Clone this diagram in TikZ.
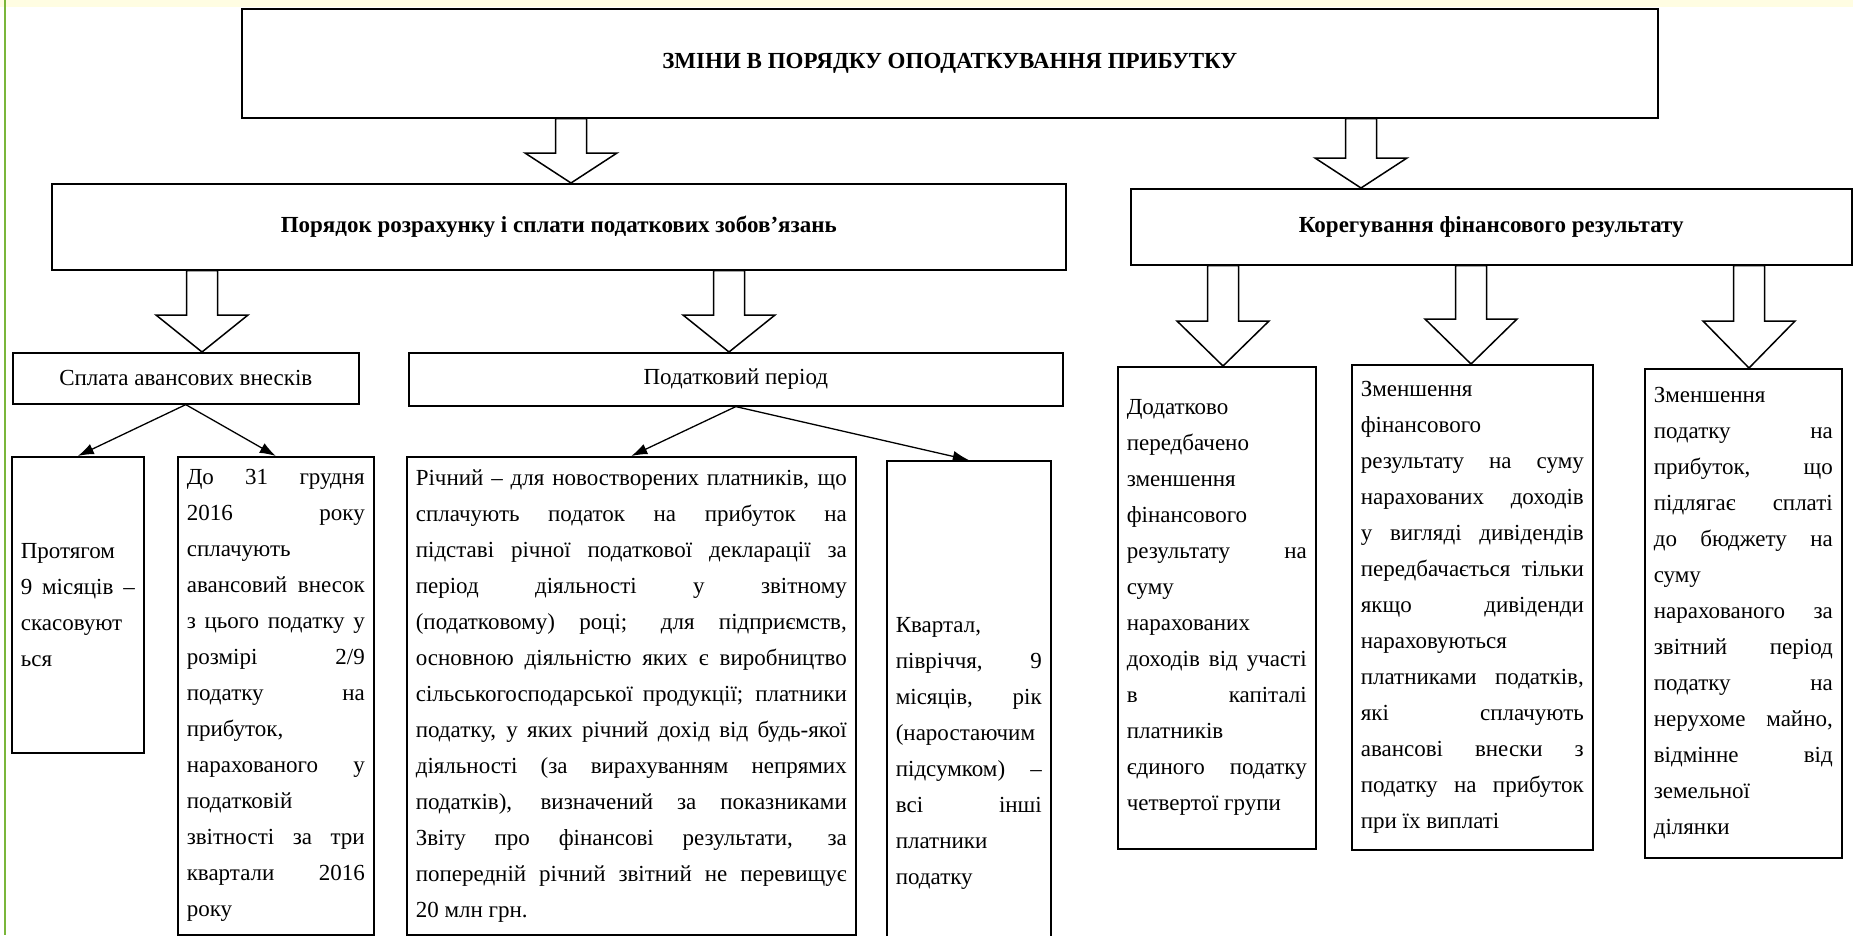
\documentclass[tikz,border=0pt]{standalone}
\usepackage{fontspec}
\setmainfont{Liberation Serif}
\usepackage{tikz}
\usetikzlibrary{arrows.meta,positioning,calc}
\definecolor{FrameGreen}{RGB}{122,182,58}
\definecolor{PaleYellow}{RGB}{255,253,226}
\newcommand{\bodyfont}{\fontsize{23}{36}\selectfont}
\newcommand{\headfont}{\fontsize{23}{28}\selectfont\bfseries}
\hyphenpenalty=10000
\exhyphenpenalty=10000
\tolerance=9999
% hollow block arrow: from node, to node, x position, head length
\newcommand{\fatarrow}[4]{%
  \path (#3,0 |- #1.south) coordinate (fa-top)
        (#3,0 |- #2.north) coordinate (fa-tip);
  \draw[fatline] ([xshift=-15.5pt]fa-top) -- ([xshift=-15.5pt,yshift=#4pt]fa-tip)
    -- ([xshift=-46pt,yshift=#4pt]fa-tip) -- (fa-tip)
    -- ([xshift=46pt,yshift=#4pt]fa-tip) -- ([xshift=15.5pt,yshift=#4pt]fa-tip)
    -- ([xshift=15.5pt]fa-top) -- cycle;}

\begin{document}
\begin{tikzpicture}[x=1pt, y=-1pt,
  box/.style={draw, line width=1.6pt, anchor=north west, inner sep=0pt},
  headbox/.style={box, font=\headfont, align=center},
  subbox/.style={box, font=\bodyfont, align=center},
  textbox/.style={box, font=\bodyfont, align=justify, inner xsep=9pt},
  thinarrow/.style={-{Latex[length=16pt,width=11pt]}, line width=1.3pt},
  fatline/.style={line width=1.5pt, line join=miter}]
\useasboundingbox (0,0) rectangle (1853,935);
\fill[white] (0,0) rectangle (1853,935);
\fill[PaleYellow] (0,0) rectangle (1853,7);
\draw[FrameGreen, line width=2.5pt] (5,0) -- (5,935);

% top level
\node[headbox, minimum width=1416pt, minimum height=109pt] (title) at (241,8) {ЗМІНИ В ПОРЯДКУ ОПОДАТКУВАННЯ ПРИБУТКУ};
\node[headbox, minimum width=1014pt, minimum height=86pt] (calc) at (51,183) {Порядок розрахунку і сплати податкових зобов’язань};
\node[headbox, minimum width=721pt, minimum height=76pt] (adjust) at (1130,188) {Корегування фінансового результату};

% left branch
\node[subbox, minimum width=346pt, minimum height=51pt] (advance) at (12,352) {Сплата авансових внесків};
\node[subbox, minimum width=654pt, minimum height=53pt] (period) at (408,352) {Податковий період};

\node[textbox, minimum width=132pt, minimum height=296pt, text width=114pt] (cancel) at (11,456)
  {Протягом\linebreak 9 місяців –\linebreak скасовуют\linebreak ься};
\node[textbox, minimum width=196pt, minimum height=478pt, text width=178pt] (dec31) at (177,456)
  {До 31 грудня\linebreak 2016 року\linebreak сплачують\linebreak авансовий внесок\linebreak
   з цього податку у\linebreak розмірі 2/9\linebreak податку на\linebreak прибуток,\linebreak
   нарахованого у\linebreak податковій\linebreak звітності за три\linebreak квартали 2016\linebreak року};
\node[textbox, minimum width=449pt, minimum height=478pt, text width=431pt] (annual) at (406,456)
  {Річний – для новостворених платників, що\linebreak сплачують податок на прибуток на\linebreak
   підставі річної податкової декларації за\linebreak період діяльності у звітному\linebreak
   (податковому) році; для підприємств,\linebreak основною діяльністю яких є виробництво\linebreak
   сільськогосподарської продукції; платники\linebreak податку, у яких річний дохід від будь-якої\linebreak
   діяльності (за вирахуванням непрямих\linebreak податків), визначений за показниками\linebreak
   Звіту про фінансові результати, за\linebreak попередній річний звітний не перевищує\linebreak
   20 млн грн.};
\node[textbox, minimum width=164pt, minimum height=585pt, text width=146pt] (quarter) at (886,460)
  {Квартал,\linebreak півріччя, 9\linebreak місяців, рік\linebreak (наростаючим\linebreak
   підсумком) –\linebreak всі інші\linebreak платники\linebreak податку};

% right branch
\node[textbox, minimum width=198pt, minimum height=482pt, text width=180pt] (extra) at (1117,366)
  {Додатково\linebreak передбачено\linebreak зменшення\linebreak фінансового\linebreak
   результату на\linebreak суму\linebreak нарахованих\linebreak доходів від участі\linebreak
   в капіталі\linebreak платників\linebreak єдиного податку\linebreak четвертої групи};
\node[textbox, minimum width=241pt, minimum height=485pt, text width=223pt] (dividend) at (1351,364)
  {Зменшення\linebreak фінансового\linebreak результату на суму\linebreak нарахованих доходів\linebreak
   у вигляді дивідендів\linebreak передбачається тільки\linebreak якщо дивіденди\linebreak
   нараховуються\linebreak платниками податків,\linebreak які сплачують\linebreak
   авансові внески з\linebreak податку на прибуток\linebreak при їх виплаті};
\node[textbox, minimum width=197pt, minimum height=489pt, text width=179pt] (property) at (1644,368)
  {Зменшення\linebreak податку на\linebreak прибуток, що\linebreak підлягає сплаті\linebreak
   до бюджету на\linebreak суму\linebreak нарахованого за\linebreak звітний період\linebreak
   податку на\linebreak нерухоме майно,\linebreak відмінне від\linebreak земельної\linebreak ділянки};

% block arrows
\fatarrow{title}{calc}{571}{30}
\fatarrow{title}{adjust}{1361}{30}
\fatarrow{calc}{advance}{202}{37}
\fatarrow{calc}{period}{729}{37}
\fatarrow{adjust}{extra}{1223}{45}
\fatarrow{adjust}{dividend}{1471}{45}
\fatarrow{adjust}{property}{1749}{47}

% thin arrows
\draw[thinarrow] (advance.south) -- (cancel.north);
\draw[thinarrow] (advance.south) -- (dec31.north);
\draw[thinarrow] (period.south) -- (annual.north);
\draw[thinarrow] (period.south) -- (quarter.north);
\end{tikzpicture}
\end{document}
